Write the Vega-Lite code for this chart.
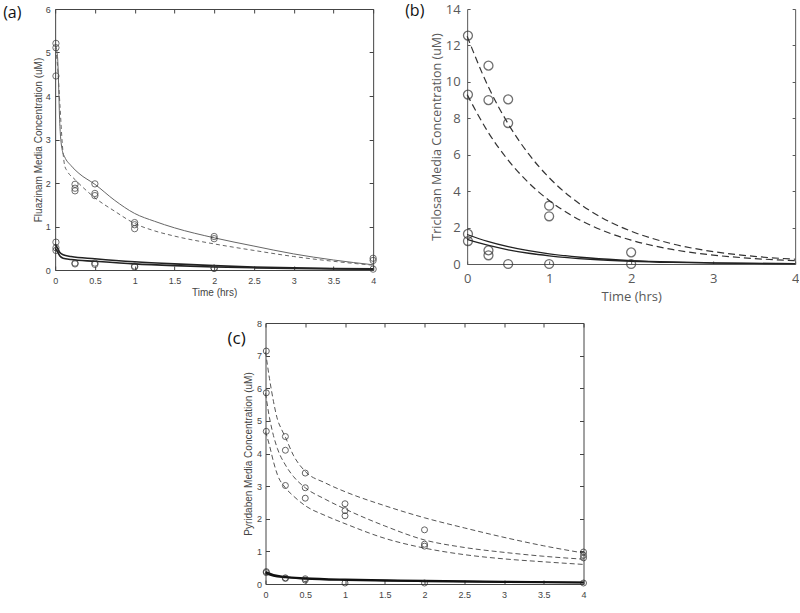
{
  "$schema": "https://vega.github.io/schema/vega-lite/v6.json",
  "padding": {"left": 3, "top": 3, "right": 0, "bottom": 0},
  "background": "white",
  "config": {"view": {"stroke": null}, "axis": {"grid": false}},
  "datasets": {
    "aDash": [
      {"s":"d","t":0,"c":5.1},{"s":"d","t":0.03,"c":4.7},{"s":"d","t":0.06,"c":3.8},{"s":"d","t":0.09,"c":2.9},{"s":"d","t":0.12,"c":2.4},{"s":"d","t":0.15,"c":2.28},{"s":"d","t":0.25,"c":2.08},{"s":"d","t":0.5,"c":1.66},{"s":"d","t":0.75,"c":1.35},{"s":"d","t":1,"c":1.07},{"s":"d","t":1.25,"c":0.9},{"s":"d","t":1.5,"c":0.78},{"s":"d","t":2,"c":0.6},{"s":"d","t":2.5,"c":0.45},{"s":"d","t":3,"c":0.31},{"s":"d","t":3.5,"c":0.2},{"s":"d","t":4,"c":0.11}
    ],
    "aThin": [
      {"t":0,"c":5.2},{"t":0.03,"c":4.9},{"t":0.06,"c":3.3},{"t":0.09,"c":2.75},{"t":0.12,"c":2.6},{"t":0.2,"c":2.4},{"t":0.3,"c":2.22},{"t":0.5,"c":1.97},{"t":0.75,"c":1.6},{"t":1,"c":1.3},{"t":1.25,"c":1.12},{"t":1.5,"c":0.97},{"t":2,"c":0.74},{"t":2.5,"c":0.55},{"t":3,"c":0.37},{"t":3.5,"c":0.23},{"t":4,"c":0.12}
    ],
    "aThick": [
      {"s":"L1","t":0,"c":0.6},{"s":"L1","t":0.03,"c":0.5},{"s":"L1","t":0.06,"c":0.4},{"s":"L1","t":0.1,"c":0.35},{"s":"L1","t":0.2,"c":0.31},{"s":"L1","t":0.5,"c":0.26},{"s":"L1","t":1,"c":0.19},{"s":"L1","t":1.5,"c":0.14},{"s":"L1","t":2,"c":0.1},{"s":"L1","t":2.5,"c":0.07},{"s":"L1","t":3,"c":0.05},{"s":"L1","t":3.5,"c":0.035},{"s":"L1","t":4,"c":0.025},
      {"s":"L2","t":0,"c":0.5},{"s":"L2","t":0.03,"c":0.42},{"s":"L2","t":0.06,"c":0.32},{"s":"L2","t":0.1,"c":0.27},{"s":"L2","t":0.2,"c":0.24},{"s":"L2","t":0.5,"c":0.2},{"s":"L2","t":1,"c":0.14},{"s":"L2","t":1.5,"c":0.1},{"s":"L2","t":2,"c":0.07},{"s":"L2","t":2.5,"c":0.05},{"s":"L2","t":3,"c":0.035},{"s":"L2","t":3.5,"c":0.025},{"s":"L2","t":4,"c":0.018}
    ],
    "aPts": [
      {"t":0.01,"c":5.21},{"t":0.01,"c":5.11},{"t":0.01,"c":4.46},{"t":0.01,"c":0.64},{"t":0.01,"c":0.51},{"t":0.01,"c":0.45},
      {"t":0.25,"c":1.97},{"t":0.25,"c":1.88},{"t":0.25,"c":1.82},{"t":0.25,"c":0.16},{"t":0.25,"c":0.14},
      {"t":0.5,"c":1.98},{"t":0.5,"c":1.76},{"t":0.5,"c":1.71},{"t":0.5,"c":0.16},{"t":0.5,"c":0.13},
      {"t":1,"c":1.09},{"t":1,"c":1.04},{"t":1,"c":0.95},{"t":1,"c":0.09},{"t":1,"c":0.07},
      {"t":2,"c":0.77},{"t":2,"c":0.72},{"t":2,"c":0.04},{"t":2,"c":0.04},
      {"t":4,"c":0.27},{"t":4,"c":0.22},{"t":4,"c":0.02}
    ],
    "bDash": [
      {"s":"u","t":0,"c":12.5},{"s":"u","t":0.25,"c":9.81},{"s":"u","t":0.5,"c":7.7},{"s":"u","t":0.75,"c":6.04},{"s":"u","t":1,"c":4.74},{"s":"u","t":1.25,"c":3.72},{"s":"u","t":1.5,"c":2.92},{"s":"u","t":1.75,"c":2.29},{"s":"u","t":2,"c":1.8},{"s":"u","t":2.5,"c":1.11},{"s":"u","t":3,"c":0.68},{"s":"u","t":3.5,"c":0.42},{"s":"u","t":4,"c":0.26},
      {"s":"l","t":0,"c":9.3},{"s":"l","t":0.25,"c":7.28},{"s":"l","t":0.5,"c":5.7},{"s":"l","t":0.75,"c":4.46},{"s":"l","t":1,"c":3.49},{"s":"l","t":1.25,"c":2.73},{"s":"l","t":1.5,"c":2.14},{"s":"l","t":1.75,"c":1.67},{"s":"l","t":2,"c":1.31},{"s":"l","t":2.5,"c":0.8},{"s":"l","t":3,"c":0.49},{"s":"l","t":3.5,"c":0.3},{"s":"l","t":4,"c":0.18}
    ],
    "bSolid": [
      {"s":"u","t":0,"c":1.62},{"s":"u","t":0.25,"c":1.24},{"s":"u","t":0.5,"c":0.95},{"s":"u","t":0.75,"c":0.73},{"s":"u","t":1,"c":0.56},{"s":"u","t":1.5,"c":0.33},{"s":"u","t":2,"c":0.19},{"s":"u","t":2.5,"c":0.11},{"s":"u","t":3,"c":0.065},{"s":"u","t":3.5,"c":0.038},{"s":"u","t":4,"c":0.022},
      {"s":"l","t":0,"c":1.35},{"s":"l","t":0.25,"c":1.03},{"s":"l","t":0.5,"c":0.78},{"s":"l","t":0.75,"c":0.59},{"s":"l","t":1,"c":0.45},{"s":"l","t":1.5,"c":0.26},{"s":"l","t":2,"c":0.15},{"s":"l","t":2.5,"c":0.086},{"s":"l","t":3,"c":0.05},{"s":"l","t":3.5,"c":0.029},{"s":"l","t":4,"c":0.017}
    ],
    "bPts": [
      {"t":0.01,"c":12.54},{"t":0.01,"c":9.3},{"t":0.01,"c":1.65},{"t":0.01,"c":1.26},
      {"t":0.26,"c":10.89},{"t":0.26,"c":9.0},{"t":0.26,"c":0.75},{"t":0.26,"c":0.48},
      {"t":0.5,"c":9.04},{"t":0.5,"c":7.74},{"t":0.5,"c":0},
      {"t":1,"c":3.2},{"t":1,"c":2.62},{"t":1,"c":0},
      {"t":2,"c":0.64},{"t":2,"c":0}
    ],
    "cDash": [
      {"s":"u","t":0,"c":7.12},{"s":"u","t":0.05,"c":6.3},{"s":"u","t":0.1,"c":5.6},{"s":"u","t":0.15,"c":5.05},{"s":"u","t":0.2,"c":4.75},{"s":"u","t":0.25,"c":4.5},{"s":"u","t":0.35,"c":3.95},{"s":"u","t":0.5,"c":3.45},{"s":"u","t":0.75,"c":3.1},{"s":"u","t":1,"c":2.83},{"s":"u","t":1.5,"c":2.4},{"s":"u","t":2,"c":2.03},{"s":"u","t":2.5,"c":1.72},{"s":"u","t":3,"c":1.43},{"s":"u","t":3.5,"c":1.17},{"s":"u","t":4,"c":0.95},
      {"s":"m","t":0,"c":5.85},{"s":"m","t":0.05,"c":5.1},{"s":"m","t":0.1,"c":4.55},{"s":"m","t":0.15,"c":4.15},{"s":"m","t":0.25,"c":3.65},{"s":"m","t":0.35,"c":3.3},{"s":"m","t":0.5,"c":2.95},{"s":"m","t":0.75,"c":2.6},{"s":"m","t":1,"c":2.3},{"s":"m","t":1.5,"c":1.78},{"s":"m","t":2,"c":1.35},{"s":"m","t":2.5,"c":1.12},{"s":"m","t":3,"c":0.97},{"s":"m","t":3.5,"c":0.85},{"s":"m","t":4,"c":0.76},
      {"s":"l","t":0,"c":4.67},{"s":"l","t":0.05,"c":4.25},{"s":"l","t":0.1,"c":3.75},{"s":"l","t":0.15,"c":3.35},{"s":"l","t":0.25,"c":2.95},{"s":"l","t":0.35,"c":2.7},{"s":"l","t":0.5,"c":2.4},{"s":"l","t":0.75,"c":2.1},{"s":"l","t":1,"c":1.85},{"s":"l","t":1.5,"c":1.4},{"s":"l","t":2,"c":1.1},{"s":"l","t":2.5,"c":0.9},{"s":"l","t":3,"c":0.77},{"s":"l","t":3.5,"c":0.68},{"s":"l","t":4,"c":0.6}
    ],
    "cSolid": [
      {"s":"a","t":0,"c":0.37},{"s":"a","t":0.1,"c":0.28},{"s":"a","t":0.25,"c":0.22},{"s":"a","t":0.5,"c":0.18},{"s":"a","t":1,"c":0.14},{"s":"a","t":1.5,"c":0.12},{"s":"a","t":2,"c":0.1},{"s":"a","t":3,"c":0.07},{"s":"a","t":4,"c":0.05},
      {"s":"b","t":0,"c":0.33},{"s":"b","t":0.1,"c":0.25},{"s":"b","t":0.25,"c":0.2},{"s":"b","t":0.5,"c":0.16},{"s":"b","t":1,"c":0.12},{"s":"b","t":1.5,"c":0.1},{"s":"b","t":2,"c":0.085},{"s":"b","t":3,"c":0.06},{"s":"b","t":4,"c":0.04}
    ],
    "cPts": [
      {"t":0.01,"c":7.14},{"t":0.01,"c":5.86},{"t":0.01,"c":4.68},{"t":0.01,"c":0.38},{"t":0.01,"c":0.35},
      {"t":0.25,"c":4.52},{"t":0.25,"c":4.1},{"t":0.25,"c":3.02},{"t":0.25,"c":0.19},{"t":0.25,"c":0.17},
      {"t":0.5,"c":3.4},{"t":0.5,"c":2.95},{"t":0.5,"c":2.63},{"t":0.5,"c":0.16},{"t":0.5,"c":0.12},
      {"t":1,"c":2.46},{"t":1,"c":2.25},{"t":1,"c":2.09},{"t":1,"c":0.03},
      {"t":2,"c":1.66},{"t":2,"c":1.22},{"t":2,"c":1.16},{"t":2,"c":0.03},
      {"t":4,"c":0.98},{"t":4,"c":0.88},{"t":4,"c":0.8},{"t":4,"c":0.03}
    ]
  },
  "vconcat": [
    {
      "hconcat": [
        {
          "width": 318, "height": 261,
          "title": {"text": "(a)", "anchor": "start", "frame": "group", "dx": -52, "dy": 16, "offset": 0, "baseline": "top", "font": "Open Sans", "fontSize": 16, "fontWeight": "normal", "color": "#111"},
          "layer": [
            {"data": {"name": "aDash"}, "mark": {"type": "line", "color": "#666", "strokeWidth": 1, "strokeDash": [4, 3], "interpolate": "monotone"},
             "encoding": {
               "x": {"field": "t", "type": "quantitative", "scale": {"domain": [0, 4], "nice": false, "zero": false},
                     "axis": {"orient": "bottom", "values": [0,0.5,1,1.5,2,2.5,3,3.5,4], "format": "~g", "labelFont": "Liberation Sans", "labelFontSize": 9, "labelColor": "#444", "tickSize": -4, "tickColor": "#444", "domainColor": "#444", "labelPadding": 10, "labelFlush": false, "labelOverlap": false, "title": "Time (hrs)", "titleFont": "Liberation Sans", "titleFontSize": 10, "titleFontWeight": "normal", "titleColor": "#444", "titlePadding": 2}},
               "y": {"field": "c", "type": "quantitative", "scale": {"domain": [0, 6], "nice": false},
                     "axis": {"orient": "left", "values": [0,1,2,3,4,5,6], "labelFont": "Liberation Sans", "labelFontSize": 9, "labelColor": "#444", "tickSize": -4, "tickColor": "#444", "domainColor": "#444", "labelPadding": 9, "labelFlush": false, "labelOverlap": false, "title": "Fluazinam Media Concentration (uM)", "titleFont": "Liberation Sans", "titleFontSize": 10, "titleFontWeight": "normal", "titleColor": "#444", "titlePadding": 2}},
               "detail": {"field": "s"}}},
            {"data": {"name": "aThin"}, "mark": {"type": "line", "color": "#666", "strokeWidth": 1, "interpolate": "monotone"},
             "encoding": {"x": {"field": "t", "type": "quantitative", "axis": null}, "y": {"field": "c", "type": "quantitative", "axis": null}}},
            {"data": {"name": "aThick"}, "mark": {"type": "line", "color": "#222", "strokeWidth": 1.6, "interpolate": "monotone"},
             "encoding": {"x": {"field": "t", "type": "quantitative", "axis": null}, "y": {"field": "c", "type": "quantitative", "axis": null}, "detail": {"field": "s"}}},
            {"data": {"name": "aPts"}, "mark": {"type": "point", "shape": "circle", "filled": false, "color": "#333", "size": 40, "strokeWidth": 1},
             "encoding": {
               "x": {"field": "t", "type": "quantitative", "axis": {"orient": "top", "values": [0,0.5,1,1.5,2,2.5,3,3.5,4], "labels": false, "title": null, "tickSize": -4, "tickColor": "#444", "domainColor": "#444"}},
               "y": {"field": "c", "type": "quantitative", "axis": {"orient": "right", "values": [0,1,2,3,4,5,6], "labels": false, "title": null, "tickSize": -4, "tickColor": "#444", "domainColor": "#444"}}}}
          ],
          "resolve": {"axis": {"x": "independent", "y": "independent"}}
        },
        {
          "width": 328, "height": 255,
          "title": {"text": "(b)", "anchor": "start", "frame": "group", "dx": -62, "dy": 16, "offset": 0, "baseline": "top", "font": "Open Sans", "fontSize": 16, "fontWeight": "normal", "color": "#111"},
          "layer": [
            {"data": {"name": "bDash"}, "mark": {"type": "line", "color": "#333", "strokeWidth": 1.2, "strokeDash": [7, 4], "interpolate": "monotone"},
             "encoding": {
               "x": {"field": "t", "type": "quantitative", "scale": {"domain": [0, 4], "nice": false, "zero": false},
                     "axis": {"orient": "bottom", "values": [0,1,2,3,4], "labelFont": "Open Sans", "labelFontSize": 13, "labelColor": "#595959", "tickSize": -3, "tickColor": "#595959", "domainColor": "#595959", "labelPadding": 11, "labelFlush": false, "title": "Time (hrs)", "titleFont": "Open Sans", "titleFontSize": 13, "titleFontWeight": "normal", "titleColor": "#595959", "titlePadding": 5}},
               "y": {"field": "c", "type": "quantitative", "scale": {"domain": [0, 14], "nice": false},
                     "axis": {"orient": "left", "values": [0,2,4,6,8,10,12,14], "labelFont": "Open Sans", "labelFontSize": 13, "labelColor": "#595959", "tickSize": -3, "tickColor": "#595959", "domainColor": "#595959", "labelPadding": 10, "labelFlush": false, "title": "Triclosan Media Concentration (uM)", "titleFont": "Open Sans", "titleFontSize": 12.5, "titleFontWeight": "normal", "titleColor": "#595959", "titlePadding": 2}},
               "detail": {"field": "s"}}},
            {"data": {"name": "bSolid"}, "mark": {"type": "line", "color": "#222", "strokeWidth": 1.3, "interpolate": "monotone"},
             "encoding": {"x": {"field": "t", "type": "quantitative", "axis": null}, "y": {"field": "c", "type": "quantitative", "axis": null}, "detail": {"field": "s"}}},
            {"data": {"name": "bPts"}, "mark": {"type": "point", "shape": "circle", "filled": false, "color": "#333", "size": 80, "strokeWidth": 1.3},
             "encoding": {
               "x": {"field": "t", "type": "quantitative", "axis": null},
               "y": {"field": "c", "type": "quantitative", "axis": {"orient": "right", "values": [0,2,4,6,8,10,12,14], "labels": false, "title": null, "tickSize": -3, "tickColor": "#595959", "domainColor": "#595959"}}}}
          ],
          "resolve": {"axis": {"x": "independent", "y": "independent"}}
        }
      ],
      "spacing": 94,
      "bounds": "flush"
    },
    {
      "width": 318, "height": 261,
      "title": {"text": "(c)", "anchor": "start", "frame": "group", "dx": -38, "dy": 29, "offset": 0, "baseline": "top", "font": "Open Sans", "fontSize": 17, "fontWeight": "normal", "color": "#111"},
      "layer": [
        {"data": {"name": "cDash"}, "mark": {"type": "line", "color": "#555", "strokeWidth": 1, "strokeDash": [5, 3], "interpolate": "monotone"},
         "encoding": {
           "x": {"field": "t", "type": "quantitative", "scale": {"domain": [0, 4], "nice": false, "zero": false},
                 "axis": {"orient": "bottom", "values": [0,0.5,1,1.5,2,2.5,3,3.5,4], "format": "~g", "labelFont": "Liberation Sans", "labelFontSize": 9, "labelColor": "#444", "tickSize": -4, "tickColor": "#444", "domainColor": "#444", "labelPadding": 10, "labelFlush": false, "labelOverlap": false, "title": null}},
           "y": {"field": "c", "type": "quantitative", "scale": {"domain": [0, 8], "nice": false},
                 "axis": {"orient": "left", "values": [0,1,2,3,4,5,6,7,8], "labelFont": "Liberation Sans", "labelFontSize": 9, "labelColor": "#444", "tickSize": -4, "tickColor": "#444", "domainColor": "#444", "labelPadding": 8, "labelFlush": false, "labelOverlap": false, "title": "Pyridaben Media Concentration (uM)", "titleFont": "Liberation Sans", "titleFontSize": 10, "titleFontWeight": "normal", "titleColor": "#444", "titlePadding": 3}},
           "detail": {"field": "s"}}},
        {"data": {"name": "cSolid"}, "mark": {"type": "line", "color": "#111", "strokeWidth": 1.8, "interpolate": "monotone"},
         "encoding": {"x": {"field": "t", "type": "quantitative", "axis": null}, "y": {"field": "c", "type": "quantitative", "axis": null}, "detail": {"field": "s"}}},
        {"data": {"name": "cPts"}, "mark": {"type": "point", "shape": "circle", "filled": false, "color": "#222", "size": 36, "strokeWidth": 1},
         "encoding": {
           "x": {"field": "t", "type": "quantitative", "axis": {"orient": "top", "values": [0,0.5,1,1.5,2,2.5,3,3.5,4], "labels": false, "title": null, "tickSize": -4, "tickColor": "#444", "domainColor": "#444"}},
           "y": {"field": "c", "type": "quantitative", "axis": {"orient": "right", "values": [0,1,2,3,4,5,6,7,8], "labels": false, "title": null, "tickSize": -4, "tickColor": "#444", "domainColor": "#444"}}}}
      ],
      "resolve": {"axis": {"x": "independent", "y": "independent"}}
    }
  ],
  "spacing": 16,
  "center": true
}
